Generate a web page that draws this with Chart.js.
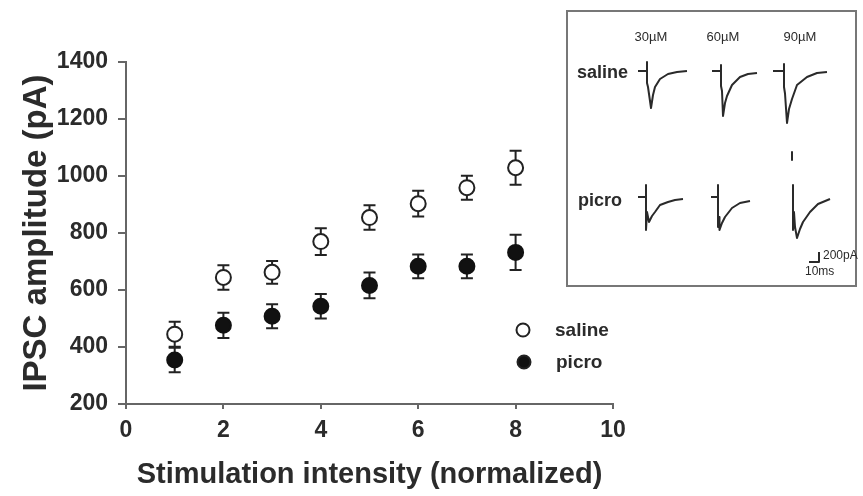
<!DOCTYPE html>
<html>
<head>
<meta charset="utf-8">
<script src="https://cdn.jsdelivr.net/npm/chart.js@4"></script>
<style>
  html, body { margin: 0; padding: 0; background: #fff; }
  #wrap { position: relative; width: 863px; height: 496px; font-family: "Liberation Sans", Arial, sans-serif; color: #2b2b2b; }
  #main { position: absolute; left: 0; top: 0; }
  #inset { position: absolute; left: 566px; top: 10px; width: 287px; height: 273px; border: 2px solid #777; background: #fff; }
  #traces { position: absolute; left: 0; top: 0; }
  .lbl { position: absolute; white-space: nowrap; transform: translate(0, -50%); }
  .c { transform: translate(-50%, -50%); }
</style>
</head>
<body>
<div id="wrap">
  <canvas id="main" width="863" height="496"></canvas>
  <div id="inset">
    <canvas id="traces" width="287" height="273"></canvas>
    <div class="lbl c" style="left:83px;top:24px;font-size:13px">30µM</div>
    <div class="lbl c" style="left:155px;top:24px;font-size:13px">60µM</div>
    <div class="lbl c" style="left:232px;top:24px;font-size:13px">90µM</div>
    <div class="lbl" style="left:9px;top:60px;font-size:18px;font-weight:bold">saline</div>
    <div class="lbl" style="left:10px;top:188px;font-size:18px;font-weight:bold">picro</div>
    <div class="lbl" style="left:255px;top:243px;font-size:12px">200pA</div>
    <div class="lbl" style="left:237px;top:259px;font-size:12px">10ms</div>
  </div>
</div>
<script>
// --- main plot data ---
const intensity  = [1, 2, 3, 4, 5, 6, 7, 8];
const salineMean = [445, 644, 662, 770, 854, 903, 959, 1029];
const salineErr  = [44, 43, 40, 47, 43, 45, 42, 60];
const picroMean  = [354, 476, 508, 543, 616, 683, 683, 732];
const picroErr   = [43, 44, 42, 43, 45, 42, 42, 62];

// --- inset traces: [ms from stimulus, pA from baseline] ---
const saline30 = [[-9,0],[0,0],[0,180],[0,-240],[1,-320],[4,-740],[6,-480],[8,-320],[13,-160],[21,-60],[30,-20],[40,0]];
const saline60 = [[-9,0],[0,0],[0,120],[0,-300],[1,-400],[2,-900],[4,-640],[6,-500],[11,-280],[19,-120],[27,-60],[36,-40]];
const saline90 = [[-11,0],[0,0],[0,140],[0,-320],[1,-450],[3,-1040],[5,-760],[8,-560],[13,-280],[23,-120],[33,-40],[43,-20]];
const picro30  = [[-8,0],[0,0],[0,240],[0,-660],[1,-300],[3,-500],[6,-380],[9,-300],[14,-160],[22,-100],[29,-60],[37,-40]];
const picro60  = [[-7,0],[0,0],[0,240],[0,-600],[1,-400],[1.5,-660],[4,-520],[7,-400],[14,-220],[22,-120],[32,-80]];
const picro90  = [[0,240],[0,-660],[1,-500],[1,-300],[2,-600],[4,-820],[7,-640],[10,-500],[17,-300],[25,-140],[37,-40]];
const picro90Mark = [[-1,900],[-1,740]];
const scaleBar = [[241,-3820],[251,-3820],[251,-3620]];

const TEXT = '#2b2b2b';
const AXIS = '#666';

const errorBars = {
  id: 'errorBars',
  beforeDatasetsDraw(chart) {
    const { ctx, scales: { x, y } } = chart;
    ctx.save();
    ctx.strokeStyle = '#222';
    ctx.lineWidth = 2;
    chart.data.datasets.forEach(ds => {
      ds.data.forEach((p, i) => {
        const px = x.getPixelForValue(p.x);
        const top = y.getPixelForValue(p.y + ds.err[i]);
        const bot = y.getPixelForValue(p.y - ds.err[i]);
        ctx.beginPath();
        ctx.moveTo(px, top); ctx.lineTo(px, bot);
        ctx.moveTo(px - 6, top); ctx.lineTo(px + 6, top);
        ctx.moveTo(px - 6, bot); ctx.lineTo(px + 6, bot);
        ctx.stroke();
      });
    });
    ctx.restore();
  }
};

const legendBox = {
  id: 'legendBox',
  afterDraw(chart) {
    const ctx = chart.ctx;
    const items = [
      { label: 'saline', fill: '#fff', cx: 523, cy: 330 },
      { label: 'picro',  fill: '#111', cx: 524, cy: 362 }
    ];
    ctx.save();
    ctx.font = 'bold 19px "Liberation Sans", Arial, sans-serif';
    ctx.textBaseline = 'middle';
    items.forEach(it => {
      ctx.beginPath();
      ctx.arc(it.cx, it.cy, 6.5, 0, Math.PI * 2);
      ctx.fillStyle = it.fill;
      ctx.fill();
      ctx.lineWidth = 2;
      ctx.strokeStyle = '#222';
      ctx.stroke();
      ctx.fillStyle = TEXT;
      ctx.fillText(it.label, it.cx + 32, it.cy + 1);
    });
    ctx.restore();
  }
};

new Chart(document.getElementById('main'), {
  type: 'scatter',
  data: {
    datasets: [
      {
        label: 'saline',
        data: intensity.map((x, i) => ({ x, y: salineMean[i] })),
        err: salineErr,
        pointRadius: 7.5,
        pointBackgroundColor: '#fff',
        pointBorderColor: '#222',
        pointBorderWidth: 2
      },
      {
        label: 'picro',
        data: intensity.map((x, i) => ({ x, y: picroMean[i] })),
        err: picroErr,
        pointRadius: 7.5,
        pointBackgroundColor: '#111',
        pointBorderColor: '#111',
        pointBorderWidth: 2
      }
    ]
  },
  options: {
    responsive: false,
    animation: false,
    layout: { padding: { top: 62, right: 250, left: 0, bottom: 0 } },
    plugins: { legend: { display: false }, tooltip: { enabled: false } },
    scales: {
      x: {
        min: 0, max: 10,
        afterFit: s => { s.height = 92; },
        ticks: { stepSize: 2, color: TEXT, padding: 8, font: { size: 23, weight: 'bold', family: '"Liberation Sans", Arial' } },
        grid: { drawOnChartArea: false, tickLength: 5, color: AXIS, lineWidth: 2 },
        border: { color: AXIS, width: 2 },
        title: { display: true, text: 'Stimulation intensity (normalized)', color: TEXT, padding: { top: 0, bottom: 4 },
                 font: { size: 29, weight: 'bold', family: '"Liberation Sans", Arial' } }
      },
      y: {
        min: 200, max: 1400,
        afterFit: s => { s.width = 126; },
        ticks: { stepSize: 200, color: TEXT, padding: 10, callback: v => String(v),
                 font: { size: 23, weight: 'bold', family: '"Liberation Sans", Arial' } },
        grid: { drawOnChartArea: false, tickLength: 8, color: AXIS, lineWidth: 2 },
        border: { color: AXIS, width: 2 },
        title: { display: true, text: 'IPSC amplitude (pA)', color: TEXT, padding: { top: 17, bottom: 0 },
                 font: { size: 33, weight: 'bold', family: '"Liberation Sans", Arial' } }
      }
    }
  },
  plugins: [errorBars, legendBox]
});

// --- inset: place traces by stimulus time (ms) and row baseline (pA) ---
const traceList = [saline30, saline60, saline90, picro30, picro60, picro90, picro90Mark, scaleBar];
const traceT    = [79, 153, 216, 78, 150, 225, 225, 0];
const traceI    = [0, 0, 0, -2520, -2520, -2520, -2520, 0];

new Chart(document.getElementById('traces'), {
  type: 'scatter',
  data: {
    datasets: traceList.map((tr, k) => ({
      data: tr.map(([t, I]) => ({ x: t + traceT[k], y: I + traceI[k] })),
      showLine: true,
      pointRadius: 0,
      borderColor: '#2a2a2a',
      borderWidth: 2,
      borderJoinStyle: 'round',
      tension: 0
    }))
  },
  options: {
    responsive: false,
    animation: false,
    layout: { padding: 0 },
    plugins: { legend: { display: false }, tooltip: { enabled: false } },
    scales: {
      x: { display: false, min: 0, max: 287 },
      y: { display: false, min: -4280, max: 1180 }
    }
  }
});
</script>
</body>
</html>
